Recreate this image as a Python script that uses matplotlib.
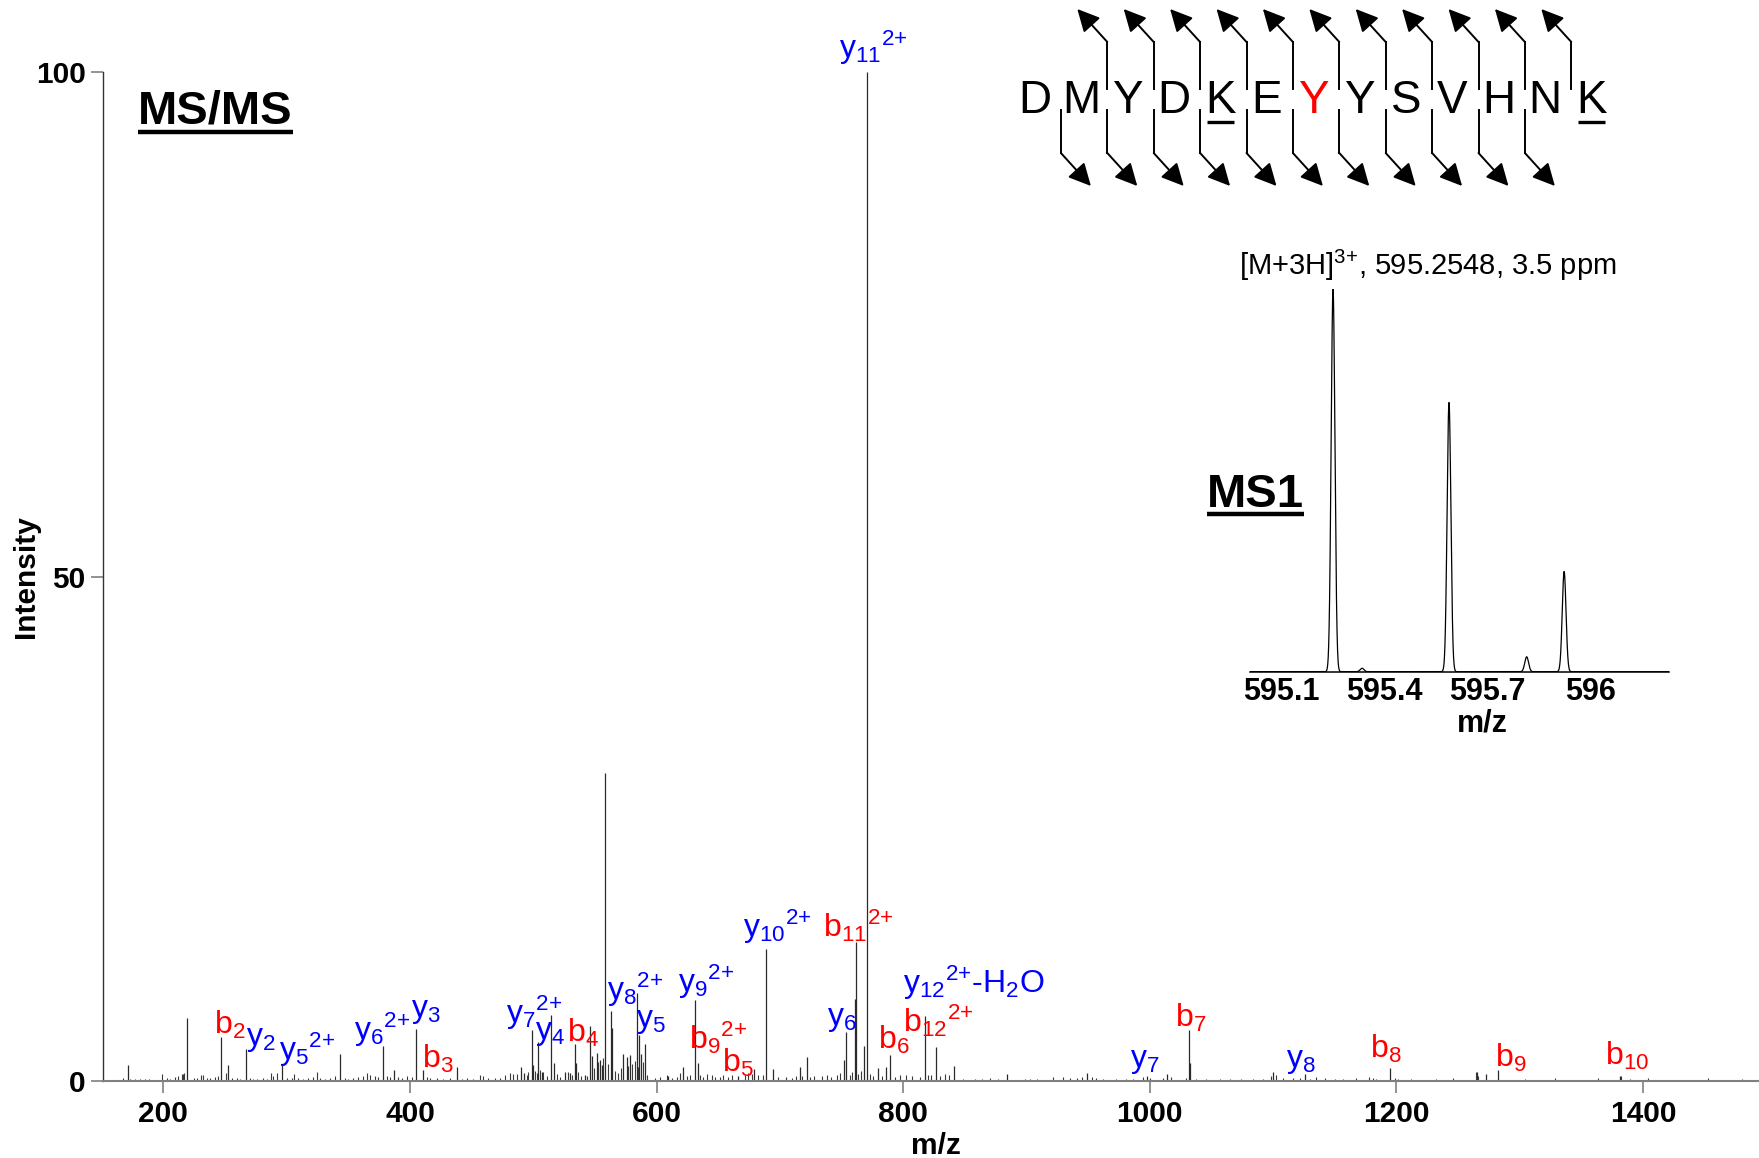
import numpy as np
import matplotlib
matplotlib.use('Agg')
import matplotlib.pyplot as plt
from matplotlib.lines import Line2D
from matplotlib.patches import FancyArrowPatch

plt.rcParams['font.family'] = ['Liberation Sans', 'DejaVu Sans']
plt.rcParams['mathtext.fontset'] = 'custom'
plt.rcParams['mathtext.rm'] = 'Liberation Sans'

# ---- annotated fragment ions (m/z, relative intensity) ---- #
ion_mz = [246.8, 267.3, 296.0, 377.9, 404.9, 410.3, 498.6, 504.0, 533.7,
          583.7, 585.6, 631.0, 633.2, 666.2, 688.6, 753.7, 761.5, 770.2,
          789.4, 817.5, 826.2, 997.3, 1031.8, 1126.1, 1195.0, 1282.3, 1381.2]
ion_int = [4.4, 3.2, 1.6, 3.5, 5.2, 1.1, 5.05, 3.9, 3.7,
           8.7, 4.6, 8.0, 1.8, 0.5, 13.1, 4.9, 13.8, 100.0,
           2.6, 6.44, 3.4, 0.5, 5.1, 0.7, 1.3, 1.1, 0.5]

# ---- ion labels and where they sit (m/z, intensity of the text baseline) ---- #
lab_text = [r'$\mathregular{b_2}$', r'$\mathregular{y_2}$', r'$\mathregular{y_5{}^{2{+}}}$',
            r'$\mathregular{y_6{}^{2{+}}}$', r'$\mathregular{y_3}$', r'$\mathregular{b_3}$',
            r'$\mathregular{y_7{}^{2{+}}}$', r'$\mathregular{y_4}$', r'$\mathregular{b_4}$',
            r'$\mathregular{y_8{}^{2{+}}}$', r'$\mathregular{y_5}$', r'$\mathregular{y_9{}^{2{+}}}$',
            r'$\mathregular{b_9{}^{2{+}}}$', r'$\mathregular{b_5}$', r'$\mathregular{y_{10}{}^{2{+}}}$',
            r'$\mathregular{y_6}$', r'$\mathregular{b_{11}{}^{2{+}}}$', r'$\mathregular{y_{11}{}^{2{+}}}$',
            r'$\mathregular{b_6}$', r'$\mathregular{b_{12}{}^{2{+}}}$',
            r'$\mathregular{y_{12}{}^{2{+}}}$-H$\mathregular{_2}$O',
            r'$\mathregular{y_7}$', r'$\mathregular{b_7}$', r'$\mathregular{y_8}$',
            r'$\mathregular{b_8}$', r'$\mathregular{b_9}$', r'$\mathregular{b_{10}}$']
lab_kind = ['b', 'y', 'y', 'y', 'y', 'b', 'y', 'y', 'b', 'y', 'y', 'y', 'b', 'b', 'y',
            'y', 'b', 'y', 'b', 'b', 'y', 'y', 'b', 'y', 'b', 'b', 'b']
lab_mz = [241.3, 266.8, 293.8, 354.9, 400.6, 409.5, 477.8, 501.3, 527.5, 559.5, 583.2,
          617.5, 626.5, 652.7, 669.8, 738.3, 734.6, 747.8, 779.7, 799.4, 799.9,
          983.7, 1020.2, 1110.7, 1178.3, 1280.2, 1368.8]
lab_int = [4.7, 3.6, 2.1, 4.1, 6.3, 1.3, 5.7, 4.2, 3.9, 8.0, 5.4,
           8.85, 3.2, 0.9, 14.3, 5.55, 14.3, 101.4, 3.2, 4.9, 8.7,
           1.4, 5.4, 1.4, 2.25, 1.4, 1.6]

# ---- other (unassigned) peaks ---- #
other_mz = [170.9, 219.2, 252.7, 343.3, 387.0, 438.4, 514.3, 545.9, 547.8, 551.3,
            554.0, 558.1, 562.7, 563.5, 572.9, 575.6, 578.3, 587.3, 590.5, 621.6,
            679.1, 694.5, 716.1, 721.6, 752.1, 760.7, 768.3, 779.6, 786.4, 841.1,
            884.3, 949.1, 1014.0, 1032.9, 1099.9, 1265.6, 1272.8, 490.0, 492.7, 500.0,
            506.7, 517.0, 525.6, 529.7, 534.6, 541.9, 555.9, 609.4]
other_int = [1.6, 6.2, 1.6, 2.7, 1.1, 1.35, 6.5, 5.45, 2.5, 2.8,
             2.1, 30.5, 6.97, 5.3, 2.7, 2.4, 2.6, 2.7, 3.7, 1.35,
             1.15, 1.15, 1.35, 2.35, 2.1, 8.1, 3.5, 1.25, 1.4, 1.5,
             0.7, 0.8, 0.7, 1.8, 0.9, 0.9, 0.7, 1.4, 0.76, 1.6,
             0.9, 1.8, 0.9, 0.8, 1.75, 0.6, 1.6, 0.5]

# ---- low level noise peaks ---- #
noise_mz = [167.6, 173.0, 177.1, 181.1, 185.2, 188.7, 198.7, 202.7, 205.4, 209.5, 212.2,
            214.9, 215.7, 216.8, 224.4, 227.1, 230.3, 232.5, 235.2, 237.9, 241.9, 244.6,
            250.6, 255.4, 259.5, 262.2, 270.3, 273.0, 275.7, 281.1, 283.8, 287.0, 289.2,
            291.9, 300.0, 304.1, 306.2, 309.5, 313.5, 317.6, 321.6, 324.4, 327.1, 331.1,
            335.2, 339.5, 347.3, 350.0, 354.1, 358.1, 362.2, 365.4, 367.6, 371.6, 374.3,
            381.1, 383.8, 390.6, 393.3, 397.3, 401.4, 413.5, 416.2, 421.6, 427.0, 432.4,
            441.9, 446.0, 451.4, 456.8, 459.5, 463.5, 468.9, 473.0, 477.0, 481.1, 483.8,
            486.5, 494.6, 495.9, 501.3, 502.7, 505.4, 508.1, 510.8, 518.9, 521.6, 527.8,
            531.0, 536.4, 538.6, 543.2, 549.4, 552.7, 556.7, 560.2, 566.2, 568.9, 571.0,
            577.0, 579.7, 582.4, 584.5, 588.6, 591.8, 598.6, 602.6, 608.1, 612.1, 616.2,
            618.9, 624.3, 627.0, 635.1, 637.8, 640.5, 644.5, 647.2, 651.3, 654.0, 658.0,
            660.8, 671.6, 674.3, 677.0, 681.8, 686.4, 698.6, 705.3, 709.4, 713.4, 718.0,
            724.3, 727.8, 733.7, 737.8, 741.8, 745.9, 748.6, 756.7, 758.6, 763.4, 766.1,
            772.9, 775.6, 782.4, 793.2, 797.2, 802.6, 806.7, 813.4, 820.2, 822.9, 829.7,
            833.8, 837.3, 848.6, 858.1, 863.5, 870.2, 877.0, 898.6, 902.7, 908.1, 921.6,
            929.7, 935.1, 940.5, 944.6, 952.7, 956.7, 962.1, 972.9, 981.0, 986.4, 994.5,
            1000.0, 1010.8, 1017.5, 1029.7, 1037.8, 1045.9, 1056.7, 1064.8, 1074.3,
            1083.7, 1091.8, 1098.6, 1102.6, 1108.0, 1116.2, 1121.6, 1129.7, 1135.1,
            1141.8, 1149.9, 1156.7, 1167.5, 1177.5, 1181.0, 1183.7, 1198.5, 1201.2,
            1212.0, 1232.3, 1245.8, 1264.7, 1266.1, 1303.9, 1328.2, 1363.4, 1382.3,
            1389.0, 1403.9, 1452.6, 1480.1]
noise_int = [0.3, 0.2, 0.2, 0.2, 0.2, 0.2, 0.7, 0.3, 0.2, 0.4, 0.5,
             0.7, 0.7, 0.8, 0.3, 0.3, 0.56, 0.6, 0.3, 0.3, 0.4, 0.5,
             0.8, 0.3, 0.3, 0.2, 0.3, 0.2, 0.2, 0.3, 0.2, 0.76, 0.5,
             0.8, 0.3, 0.3, 0.7, 0.3, 0.2, 0.3, 0.4, 0.9, 0.3, 0.2,
             0.3, 0.5, 0.3, 0.2, 0.3, 0.4, 0.5, 0.76, 0.6, 0.5, 0.4,
             0.5, 0.4, 0.4, 0.3, 0.5, 0.4, 0.4, 0.3, 0.3, 0.2, 0.3,
             0.2, 0.3, 0.2, 0.6, 0.5, 0.3, 0.3, 0.3, 0.6, 0.76, 0.7,
             0.7, 0.6, 0.9, 1.0, 0.8, 1.1, 0.9, 0.5, 0.7, 0.4, 0.9,
             0.6, 0.9, 0.5, 0.5, 1.3, 1.9, 2.3, 1.7, 1.0, 0.8, 1.3,
             1.5, 1.7, 2.0, 1.4, 1.9, 0.6, 0.3, 0.4, 0.6, 0.3, 0.4,
             0.8, 0.5, 0.6, 0.6, 0.4, 0.7, 0.6, 0.4, 0.4, 0.6, 0.4,
             0.6, 0.6, 0.8, 0.7, 0.6, 0.6, 0.4, 0.4, 0.3, 0.5, 0.5,
             0.4, 0.5, 0.5, 0.6, 0.4, 0.6, 0.8, 0.6, 0.9, 0.7, 1.0,
             0.7, 0.5, 0.5, 0.4, 0.6, 0.6, 0.5, 0.4, 0.6, 0.6, 0.5,
             0.7, 0.6, 0.2, 0.2, 0.2, 0.3, 0.2, 0.2, 0.2, 0.2, 0.4,
             0.4, 0.3, 0.3, 0.4, 0.4, 0.3, 0.2, 0.2, 0.2, 0.2, 0.4,
             0.3, 0.3, 0.4, 0.3, 0.2, 0.2, 0.2, 0.2, 0.2,
             0.2, 0.2, 0.5, 0.6, 0.3, 0.3, 0.3, 0.2, 0.4,
             0.3, 0.2, 0.2, 0.3, 0.4, 0.3, 0.2, 0.3, 0.2,
             0.2, 0.2, 0.3, 0.9, 0.5, 0.2, 0.3, 0.3, 0.5,
             0.2, 0.3, 0.3, 0.2]

# ---- MS1 isotope envelope (centroid m/z, relative intensity) ---- #
ms1_mz = [595.2516, 595.336, 595.589, 595.815, 595.924]
ms1_int = [100.0, 0.9, 70.4, 3.9, 26.2]
ms1_ticks = [595.1, 595.4, 595.7, 596.0]
ms1_ticklabels = ['595.1', '595.4', '595.7', '596']

# ---- peptide sequence ---- #
sequence = list('DMYDKEYYSVHNK')
underlined = [4, 12]
red_pos = [6]

W, H = 1759, 1158
fig = plt.figure(figsize=(W / 100, H / 100), dpi=100)


def fx(px):
    return px / W


def fy(py):
    return 1 - py / H


# ---- MS/MS spectrum ---- #
ax = fig.add_axes([fx(103), fy(1081), fx(1759) - fx(103), fy(72) - fy(1081)])
ax.vlines(noise_mz, 0, noise_int, colors='#3a3a3a', lw=0.8)
ax.vlines(other_mz, 0, other_int, colors='#2a2a2a', lw=0.9)
ax.vlines(ion_mz, 0, ion_int, colors='#2a2a2a', lw=0.9)
ax.set_xlim(151, 1494)
ax.set_ylim(0, 100)

for t, k, x, y in zip(lab_text, lab_kind, lab_mz, lab_int):
    ax.text(x, y, t, color='#ff0000' if k == 'b' else '#0000ff', fontsize=23,
            ha='left', va='baseline')

for s in ['top', 'right']:
    ax.spines[s].set_visible(False)
ax.spines['left'].set_color('#333333')
ax.spines['left'].set_linewidth(1.0)
ax.spines['bottom'].set_color('#808080')
ax.spines['bottom'].set_linewidth(1.5)
ax.spines['bottom'].set_zorder(3)
ax.set_xticks([200, 400, 600, 800, 1000, 1200, 1400])
ax.set_yticks([0, 50, 100])
ax.tick_params(axis='both', direction='out', length=8.6, width=1.2, color='#808080',
               labelsize=21.5)
ax.tick_params(axis='x', pad=5)
ax.tick_params(axis='y', pad=4)
for lbl in ax.get_xticklabels() + ax.get_yticklabels():
    lbl.set_fontweight('bold')
ax.set_xlabel('m/z', fontsize=21.5, fontweight='bold')
ax.xaxis.set_label_coords(0.503, -0.051)
ax.set_ylabel('Intensity', fontsize=21.5, fontweight='bold', va='center')
ax.yaxis.set_label_coords(-0.0465, 0.5)

# ---- MS1 inset ---- #
ax2 = fig.add_axes([fx(1250), fy(671.7), fx(1669.3) - fx(1250), fy(289.3) - fy(671.7)])
prof_x = np.linspace(595.0, 596.3, 6000)
prof_y = np.zeros_like(prof_x)
sigma = 0.0055
for m, h in zip(ms1_mz, ms1_int):
    prof_y += h * np.exp(-0.5 * ((prof_x - m) / sigma) ** 2)
ax2.plot(prof_x, prof_y, color='black', lw=0.9)
ax2.set_xlim(595.01, 596.23)
ax2.set_ylim(0, 100)
for s in ['top', 'right', 'left']:
    ax2.spines[s].set_visible(False)
ax2.spines['bottom'].set_linewidth(1.1)
ax2.set_yticks([])
ax2.set_xticks(ms1_ticks)
ax2.set_xticklabels(ms1_ticklabels, fontsize=22, fontweight='bold')
ax2.tick_params(axis='x', length=0, pad=3.5)
ax2.set_xlabel('m/z', fontsize=22, fontweight='bold')
ax2.xaxis.set_label_coords(0.555, -0.095)
ax2.patch.set_alpha(0)

fig.text(fx(1428), fy(275), r'[M+3H]$\mathregular{^{3{+}}}$, 595.2548, 3.5 ppm',
         fontsize=21, ha='center', va='baseline')

# ---- titles ---- #
t_msms = fig.text(fx(138), fy(123.5), 'MS/MS', fontsize=34, fontweight='bold',
                  ha='left', va='baseline')
t_ms1 = fig.text(fx(1206.7), fy(506.7), 'MS1', fontsize=34, fontweight='bold',
                 ha='left', va='baseline')

# ---- sequence with fragment arrows ---- #
x0, step = 1034.7, 46.4
letters = []
for i, aa in enumerate(sequence):
    c = '#ff0000' if i in red_pos else 'black'
    letters.append(fig.text(fx(x0 + i * step), fy(113.3), aa, fontsize=33, color=c,
                            ha='center', va='baseline'))

arrow_style = '-|>,head_length=0.8,head_width=0.4'
for j in range(len(sequence) - 1):
    sep = x0 + (j + 0.5) * step + 3
    if j >= 1:
        fig.add_artist(Line2D([fx(sep), fx(sep)], [fy(89), fy(42)], color='black', lw=1.4))
        fig.add_artist(FancyArrowPatch((fx(sep), fy(42)), (fx(sep - 30), fy(9)),
                                       transform=fig.transFigure, color='black', lw=1.4,
                                       arrowstyle=arrow_style,
                                       mutation_scale=17, shrinkA=0, shrinkB=0))
    if j <= 10:
        fig.add_artist(Line2D([fx(sep), fx(sep)], [fy(110), fy(153)], color='black', lw=1.4))
        fig.add_artist(FancyArrowPatch((fx(sep), fy(153)), (fx(sep + 30), fy(186)),
                                       transform=fig.transFigure, color='black', lw=1.4,
                                       arrowstyle=arrow_style,
                                       mutation_scale=17, shrinkA=0, shrinkB=0))

# ---- underlines ---- #
fig.canvas.draw()
renderer = fig.canvas.get_renderer()


def underline(txt, y_px, lw):
    bb = txt.get_window_extent(renderer)
    fig.add_artist(Line2D([bb.x0 / W, bb.x1 / W], [fy(y_px), fy(y_px)], color='black',
                          lw=lw, solid_capstyle='butt'))


underline(t_msms, 132, 3.2)
underline(t_ms1, 514, 3.2)
for i in underlined:
    bb = letters[i].get_window_extent(renderer)
    fig.add_artist(Line2D([bb.x0 / W + 0.001, bb.x1 / W - 0.001], [fy(121.5), fy(121.5)],
                          color='black', lw=2.4, solid_capstyle='butt'))

fig.savefig('out.png', dpi=100)
